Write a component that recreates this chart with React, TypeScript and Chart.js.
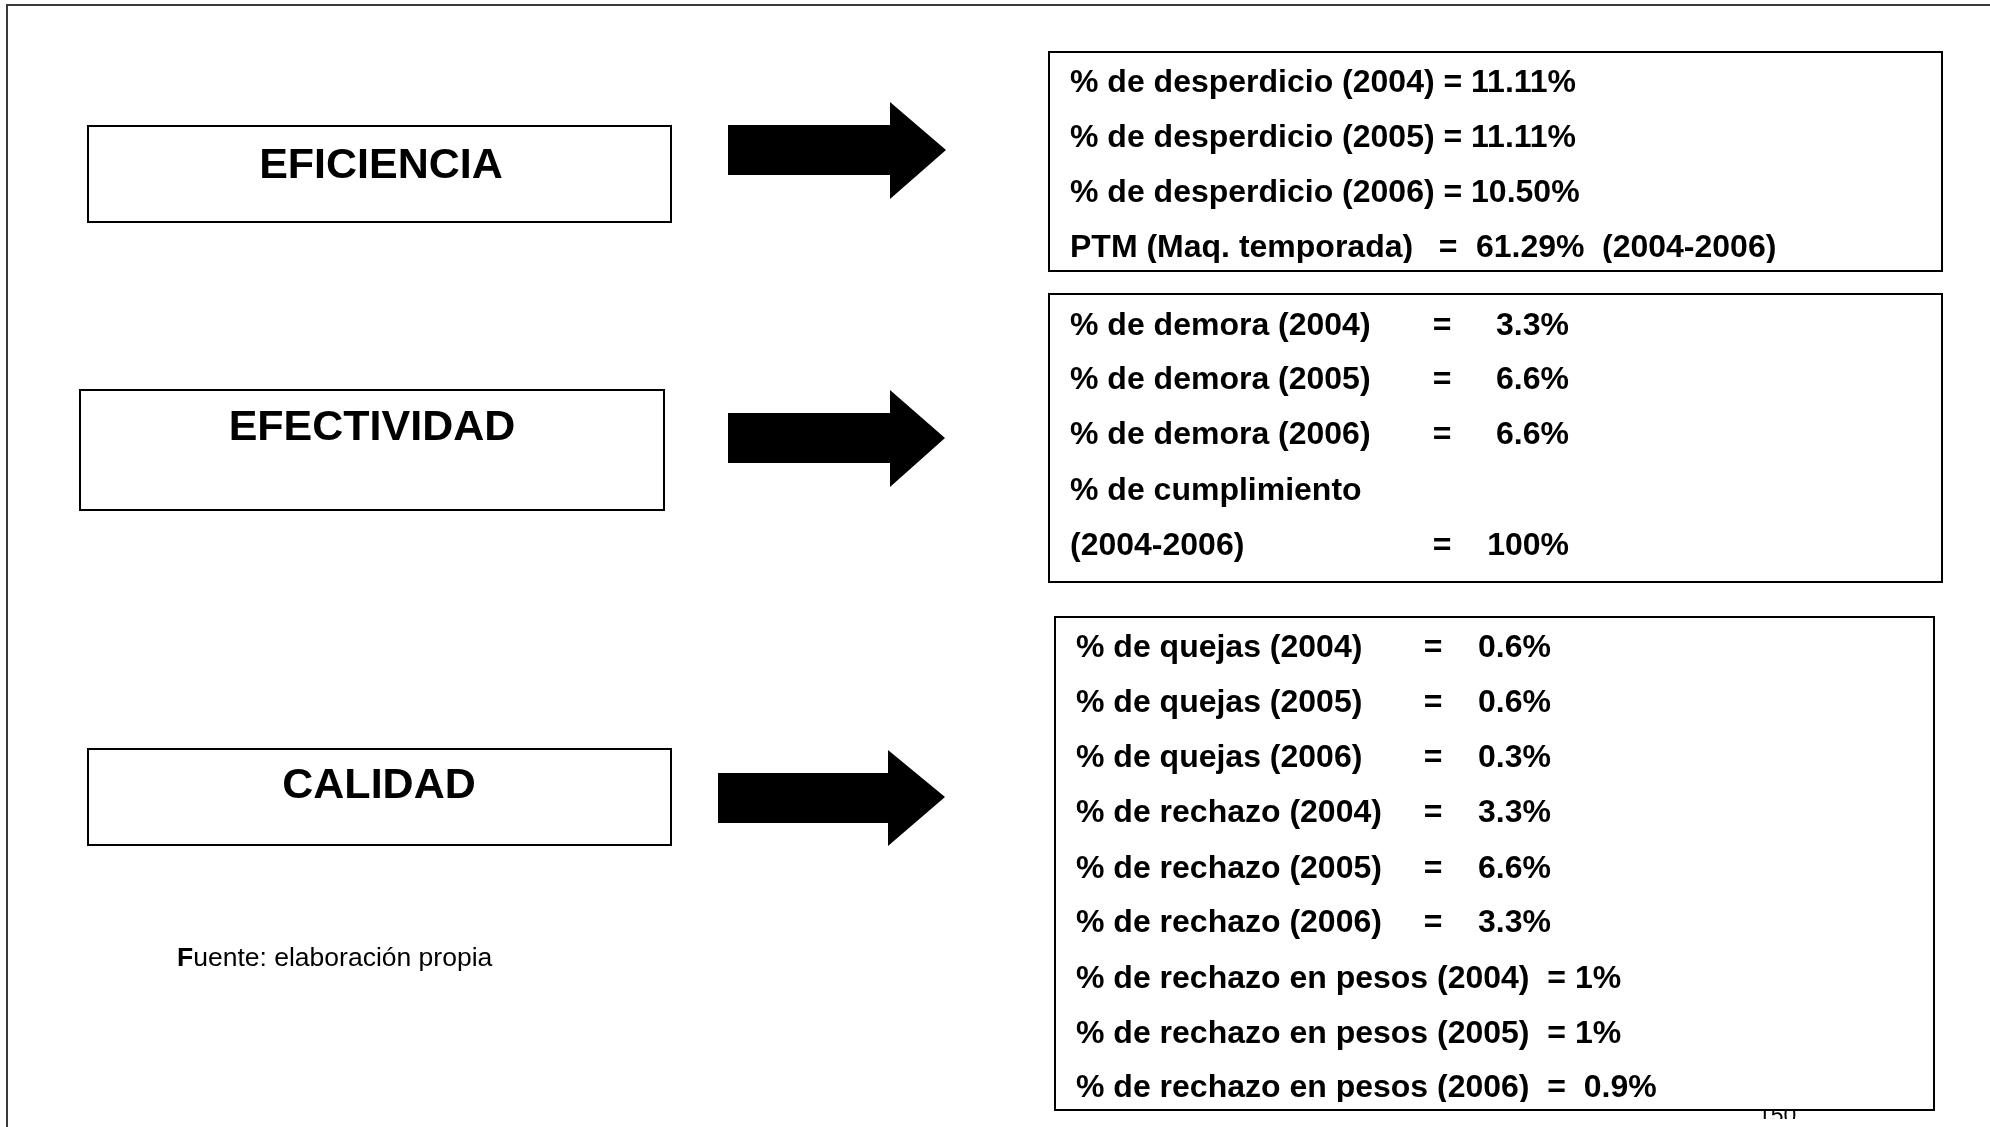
import React, { useEffect, useRef } from "react";
import { Chart, registerables } from "chart.js";

Chart.register(...registerables);

// ---------- data ----------
const categories = ["EFICIENCIA", "EFECTIVIDAD", "CALIDAD"];

const eficienciaLabels = [
  "% de desperdicio (2004) = 11.11%",
  "% de desperdicio (2005) = 11.11%",
  "% de desperdicio (2006) = 10.50%",
  "PTM (Maq. temporada)",
];
const eficienciaValues = ["", "", "", "61.29%"];
const eficienciaPeriods = ["", "", "", "(2004-2006)"];

const efectividadLabels = [
  "% de demora (2004)",
  "% de demora (2005)",
  "% de demora (2006)",
  "% de cumplimiento",
  "(2004-2006)",
];
const efectividadValues = ["3.3%", "6.6%", "6.6%", "", "100%"];

const calidadLabels = [
  "% de quejas (2004)",
  "% de quejas (2005)",
  "% de quejas (2006)",
  "% de rechazo (2004)",
  "% de rechazo (2005)",
  "% de rechazo (2006)",
  "% de rechazo en pesos (2004)  = 1%",
  "% de rechazo en pesos (2005)  = 1%",
  "% de rechazo en pesos (2006)  =  0.9%",
];
const calidadValues = ["0.6%", "0.6%", "0.3%", "3.3%", "6.6%", "3.3%", "", "", ""];

const sourceBold = "F";
const sourceRest = "uente: elaboración propia";
const pageNumber = "150";

// ---------- layout (diagram coordinates) ----------
const W = 1990;
const H = 1127;
const FONT = '"Liberation Sans", Arial, Helvetica, sans-serif';

const leftBoxes = [
  { x0: 88, y0: 126, x1: 671, y1: 222, tx: 381, ty: 178 },
  { x0: 80, y0: 390, x1: 664, y1: 510, tx: 372, ty: 440 },
  { x0: 88, y0: 749, x1: 671, y1: 845, tx: 379, ty: 798 },
];
const arrows = [
  { bx0: 728, by0: 125, by1: 175, hx: 890, hy0: 102, hy1: 199, tx: 946, ty: 150 },
  { bx0: 728, by0: 413, by1: 463, hx: 890, hy0: 390, hy1: 487, tx: 945, ty: 438 },
  { bx0: 718, by0: 773, by1: 823, hx: 888, hy0: 750, hy1: 846, tx: 945, ty: 797 },
];
const rightBoxes = [
  { x0: 1049, y0: 52, x1: 1942, y1: 271, tx: 1070, baselines: [92, 147, 202, 257] },
  { x0: 1049, y0: 294, x1: 1942, y1: 582, tx: 1070, baselines: [335, 389, 444, 500, 555] },
  {
    x0: 1055, y0: 617, x1: 1934, y1: 1110, tx: 1076,
    baselines: [657, 712, 767, 822, 878, 932, 988, 1043, 1097],
  },
];

const diagramPlugin = {
  id: "diagram",
  beforeDraw(chart: any) {
    const ctx = chart.ctx;
    ctx.save();
    ctx.fillStyle = "#ffffff";
    ctx.fillRect(0, 0, chart.width, chart.height);
    ctx.restore();
  },
  afterDraw(chart: any) {
    const ctx: CanvasRenderingContext2D = chart.ctx;
    const xs = chart.scales.x;
    const ys = chart.scales.y;
    const px = (v: number) => xs.getPixelForValue(v);
    const py = (v: number) => ys.getPixelForValue(v);

    ctx.save();

    // outer frame
    ctx.strokeStyle = "#3a3a3a";
    ctx.lineWidth = 2;
    ctx.beginPath();
    ctx.moveTo(px(7), py(1127));
    ctx.lineTo(px(7), py(5));
    ctx.lineTo(px(1990), py(5));
    ctx.stroke();

    // left category boxes
    ctx.strokeStyle = "#000";
    ctx.lineWidth = 2;
    ctx.fillStyle = "#000";
    ctx.textAlign = "center";
    ctx.textBaseline = "alphabetic";
    ctx.font = `bold 43px ${FONT}`;
    leftBoxes.forEach((b, i) => {
      ctx.strokeRect(px(b.x0), py(b.y0), px(b.x1) - px(b.x0), py(b.y1) - py(b.y0));
      ctx.fillText(categories[i], px(b.tx), py(b.ty));
    });

    // arrows
    arrows.forEach((a) => {
      ctx.beginPath();
      ctx.moveTo(px(a.bx0), py(a.by0));
      ctx.lineTo(px(a.hx), py(a.by0));
      ctx.lineTo(px(a.hx), py(a.hy0));
      ctx.lineTo(px(a.tx), py(a.ty));
      ctx.lineTo(px(a.hx), py(a.hy1));
      ctx.lineTo(px(a.hx), py(a.by1));
      ctx.lineTo(px(a.bx0), py(a.by1));
      ctx.closePath();
      ctx.fill();
    });

    // right boxes
    const boxText = (b: any, draw: () => void) => {
      ctx.strokeRect(px(b.x0), py(b.y0), px(b.x1) - px(b.x0), py(b.y1) - py(b.y0));
      ctx.save();
      ctx.beginPath();
      ctx.rect(px(b.x0 + 2), py(b.y0 + 2), px(b.x1 - 2) - px(b.x0 + 2), py(b.y1 - 8) - py(b.y0 + 2));
      ctx.clip();
      draw();
      ctx.restore();
    };
    ctx.font = `bold 32px ${FONT}`;

    // box 1: eficiencia
    const b1 = rightBoxes[0];
    boxText(b1, () => {
      eficienciaLabels.forEach((t, i) => {
        const y = py(b1.baselines[i]);
        ctx.textAlign = "left";
        ctx.fillText(t, px(b1.tx), y);
        if (eficienciaValues[i]) {
          ctx.textAlign = "center";
          ctx.fillText("=", px(1448), y);
          ctx.textAlign = "left";
          ctx.fillText(eficienciaValues[i], px(1476), y);
          ctx.fillText(eficienciaPeriods[i], px(1602), y);
        }
      });
    });

    // box 2: efectividad
    const b2 = rightBoxes[1];
    boxText(b2, () => {
      efectividadLabels.forEach((t, i) => {
        const y = py(b2.baselines[i]);
        ctx.textAlign = "left";
        ctx.fillText(t, px(b2.tx), y);
        if (efectividadValues[i]) {
          ctx.textAlign = "center";
          ctx.fillText("=", px(1442), y);
          ctx.textAlign = "right";
          ctx.fillText(efectividadValues[i], px(1569), y);
        }
      });
    });

    // box 3: calidad
    const b3 = rightBoxes[2];
    boxText(b3, () => {
      calidadLabels.forEach((t, i) => {
        const y = py(b3.baselines[i]);
        ctx.textAlign = "left";
        ctx.fillText(t, px(b3.tx), y);
        if (calidadValues[i]) {
          ctx.textAlign = "center";
          ctx.fillText("=", px(1433), y);
          ctx.textAlign = "right";
          ctx.fillText(calidadValues[i], px(1551), y);
        }
      });
    });

    // source note
    ctx.textAlign = "left";
    ctx.font = `bold 26.5px ${FONT}`;
    ctx.fillText(sourceBold, px(177), py(966));
    const fw = ctx.measureText(sourceBold).width;
    ctx.font = `26.5px ${FONT}`;
    ctx.fillText(sourceRest, px(177) + fw, py(966));

    // page number, mostly hidden below the last box
    ctx.save();
    ctx.beginPath();
    ctx.rect(px(1740), py(1111), px(1820) - px(1740), py(1119) - py(1111));
    ctx.clip();
    ctx.font = `23px ${FONT}`;
    ctx.fillText(pageNumber, px(1758), py(1123));
    ctx.restore();

    ctx.restore();
  },
};

export default function App() {
  const ref = useRef<HTMLCanvasElement | null>(null);

  useEffect(() => {
    document.body.style.margin = "0";
    document.body.style.overflow = "hidden";
    const canvas = ref.current;
    if (!canvas) return;
    const chart = new Chart(canvas, {
      type: "scatter",
      data: {
        datasets: [
          {
            label: "diagram",
            data: [],
            pointRadius: 0,
          },
        ],
      },
      options: {
        animation: false,
        responsive: false,
        devicePixelRatio: 1,
        layout: { padding: 0 },
        plugins: {
          legend: { display: false },
          tooltip: { enabled: false },
          title: { display: false },
        },
        events: [],
        scales: {
          x: { type: "linear", min: 0, max: W, display: false, bounds: "data" },
          y: { type: "linear", min: 0, max: H, reverse: true, display: false, bounds: "data" },
        },
      },
      plugins: [diagramPlugin],
    });
    return () => chart.destroy();
  }, []);

  return (
    <div style={{ width: W, height: H, background: "#fff" }}>
      <canvas ref={ref} width={W} height={H} style={{ display: "block", width: W, height: H }} />
    </div>
  );
}
